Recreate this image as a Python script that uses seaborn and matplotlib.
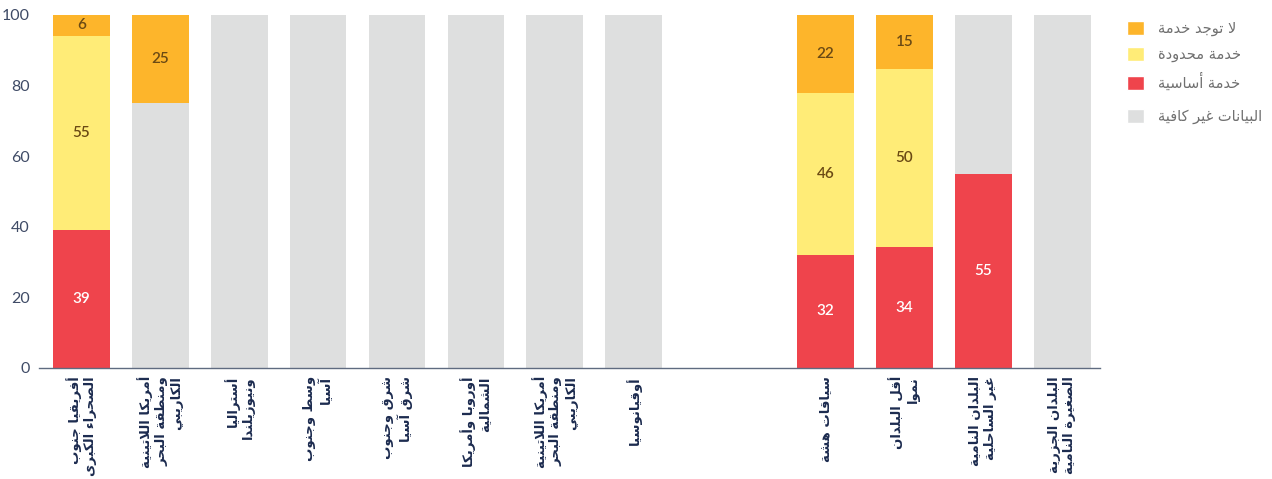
import numpy as np
import pandas as pd
import matplotlib
matplotlib.use('Agg')
import matplotlib.pyplot as plt
from matplotlib.patches import Patch
import seaborn as sns

# 데이터
categories = [
    'أفريقيا جنوب\nالصحراء الكبرى',
    'أمريكا اللاتينية\nومنطقة البحر\nالكاريبي',
    'أستراليا\nونيوزيلندا',
    'وسط وجنوب\nآسيا',
    'شرق وجنوب\nشرق آسيا',
    'أوروبا وأمريكا\nالشمالية',
    'أمريكا اللاتينية\nومنطقة البحر\nالكاريبي',
    'أوقيانوسيا',
    'سياقات هشة',
    'أقل البلدان\nنموا',
    'البلدان النامية\nغير الساحلية',
    'البلدان الجزرية\nالصغيرة النامية',
]
basic_service = [39, 0, 0, 0, 0, 0, 0, 0, 32, 34.2, 55, 0]
limited_service = [55, 0, 0, 0, 0, 0, 0, 0, 46, 50.5, 0, 0]
no_service = [6, 25, 0, 0, 0, 0, 0, 0, 22, 15.3, 0, 0]
insufficient_data = [0, 75, 100, 100, 100, 100, 100, 100, 0, 0, 45, 100]

legend_labels = ['لا توجد خدمة', 'خدمة محدودة', 'خدمة أساسية', 'البيانات غير كافية']
y_ticks = [0, 20, 40, 60, 80, 100]

# 색상
C_NONE = '#FDB52B'
C_LIMITED = '#FFEC77'
C_BASIC = '#EF444C'
C_NODATA = '#DEDFDF'

# --- 아랍어 글자 모양 처리 (matplotlib은 shaping을 하지 않음) ---
_FORM_COUNTS = [('ء', 1), ('آ', 2), ('أ', 2), ('ؤ', 2), ('إ', 2), ('ئ', 4), ('ا', 2),
                ('ب', 4), ('ة', 2), ('ت', 4), ('ث', 4), ('ج', 4), ('ح', 4), ('خ', 4),
                ('د', 2), ('ذ', 2), ('ر', 2), ('ز', 2), ('س', 4), ('ش', 4), ('ص', 4),
                ('ض', 4), ('ط', 4), ('ظ', 4), ('ع', 4), ('غ', 4), ('ف', 4), ('ق', 4),
                ('ك', 4), ('ل', 4), ('م', 4), ('ن', 4), ('ه', 4), ('و', 2), ('ى', 2),
                ('ي', 4)]
FORMS = {}
_cp = 0xFE80
for _ch, _n in _FORM_COUNTS:
    FORMS[_ch] = (_cp, _n)
    _cp += _n
LAM_ALEF = {'آ': 0xFEF5, 'أ': 0xFEF7, 'إ': 0xFEF9, 'ا': 0xFEFB}


def _joins_after(c):
    return c in FORMS and FORMS[c][1] == 4


def shape_line(s):
    out = []
    i = 0
    n = len(s)
    while i < n:
        c = s[i]
        if c not in FORMS:
            out.append(c)
            i += 1
            continue
        prev = s[i - 1] if i > 0 else None
        join_prev = prev is not None and _joins_after(prev) and FORMS[c][1] >= 2
        if c == 'ل' and i + 1 < n and s[i + 1] in LAM_ALEF:
            out.append(chr(LAM_ALEF[s[i + 1]] + (1 if join_prev else 0)))
            i += 2
            continue
        nxt = s[i + 1] if i + 1 < n else None
        join_next = _joins_after(c) and nxt in FORMS and FORMS[nxt][1] >= 2
        base = FORMS[c][0]
        if join_prev and join_next:
            off = 3
        elif join_next:
            off = 2
        elif join_prev:
            off = 1
        else:
            off = 0
        out.append(chr(base + off))
        i += 1
    return ''.join(reversed(out))


def shape(s):
    return '\n'.join(shape_line(line) for line in s.split('\n'))


# --- 그래프 ---
sns.set_style('white')
plt.rcParams['font.family'] = ['Lato', 'DejaVu Sans']

# 두 그룹 사이 간격
pos = np.r_[np.arange(8), np.arange(4) + 9.43]

df = pd.DataFrame({
    'pos': pos,
    'basic': basic_service,
    'limited': limited_service,
    'none': no_service,
    'nodata': insufficient_data,
})

fig = plt.figure(figsize=(12.72, 4.79), dpi=100)
ax = fig.add_axes([0.031, 0.232, 0.834, 0.737])

# 쌓는 순서: 기본, 제한, 데이터 부족, 서비스 없음
stack = [('basic', C_BASIC, 'white'), ('limited', C_LIMITED, '#6B4A14'),
         ('nodata', C_NODATA, None), ('none', C_NONE, '#6B4A14')]

bottom = np.zeros(len(df))
for col, color, tcolor in stack:
    vals = df[col].to_numpy()
    sns.barplot(data=df, x='pos', y=col, native_scale=True, orient='x',
                color=color, saturation=1, width=0.72, errorbar=None,
                bottom=bottom.copy(), linewidth=0, ax=ax)
    if tcolor is not None:
        for x, b, v in zip(pos, bottom, vals):
            if v > 0:
                ax.text(x, b + v / 2, f'{int(round(v))}', ha='center', va='center',
                        color=tcolor, fontsize=11, fontweight='semibold')
    bottom += vals

ax.set_xlim(-0.53, 12.91)
ax.set_ylim(0, 100)
ax.set_yticks(y_ticks)
ax.set_xticks(pos)
ax.set_xticklabels([shape(c) for c in categories], rotation=90, fontweight='bold',
                   fontsize=9.5, color='#1C2B4F', multialignment='right',
                   linespacing=1.2, family=['DejaVu Sans'])
ax.tick_params(axis='x', length=0, pad=6)
ax.tick_params(axis='y', length=0, pad=7, labelsize=11.5, labelcolor='#3F4B66')
ax.set_xlabel('')
ax.set_ylabel('')
for s in ['top', 'left', 'right']:
    ax.spines[s].set_visible(False)
ax.spines['bottom'].set_color('#5F6B80')
ax.spines['bottom'].set_linewidth(1.0)

# 범례
h1 = [Patch(facecolor=C_NONE), Patch(facecolor=C_LIMITED), Patch(facecolor=C_BASIC)]
leg1 = fig.legend(h1, [shape(l) for l in legend_labels[:3]], loc='upper left',
                  bbox_to_anchor=(1127 / 1272, 1 - 21 / 479), frameon=False,
                  borderpad=0, borderaxespad=0, handlelength=1.15, handleheight=1.15,
                  handletextpad=1.0, labelspacing=0.72,
                  labelcolor='#707070', prop={'family': ['DejaVu Sans'], 'size': 10.5})
leg2 = fig.legend([Patch(facecolor=C_NODATA)], [shape(legend_labels[3])], loc='upper left',
                  bbox_to_anchor=(1127 / 1272, 1 - 109 / 479), frameon=False,
                  borderpad=0, borderaxespad=0, handlelength=1.15, handleheight=1.15,
                  handletextpad=1.0, labelcolor='#707070',
                  prop={'family': ['DejaVu Sans'], 'size': 10.5})

fig.savefig('out.png', dpi=100)
